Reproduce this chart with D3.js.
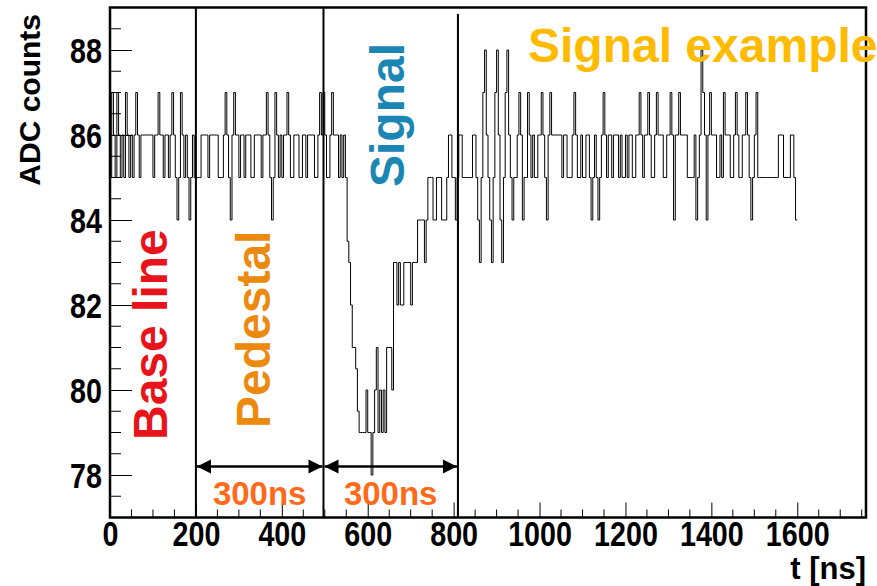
<!DOCTYPE html>
<html>
<head>
<meta charset="utf-8">
<script src="https://cdn.jsdelivr.net/npm/d3@7"></script>
<style>
  body { margin: 0; background: #fff; }
  svg text { font-family: "Liberation Sans", Arial, Helvetica, sans-serif; font-weight: bold; }
</style>
</head>
<body>
<svg width="877" height="586"></svg>
<script>
// sampled ADC trace, one value per 4 ns bin, t = 0 .. 1600 ns
var binWidth = 4;
var adc = [
  85,87,86,85,87,86,85,86,85,87, 86,85,86,85,86,87,86,85,86,86,
  86,86,86,86,86,85,86,86,87,86, 86,85,86,86,85,86,87,86,85,84,
  85,87,86,85,86,85,84,85,86,85,
  85,85,85,86,86,86,86,85,86,86, 86,86,86,85,85,85,86,87,86,85,
  84,86,87,86,86,85,86,86,85,86, 86,86,85,85,86,86,86,86,85,86,
  86,87,86,85,84,85,87,86,85,86,
  85,86,86,87,86,85,85,86,86,86, 85,85,86,86,85,86,86,86,86,85,
  85,86,87,86,87,86,85,85,86,87, 86,86,86,85,86,85,86,85,83.5,83,
  82,81,81,80.5,79.5,79,79,79,79,80,
  79,79,78,79,80,81,79,80,79,80, 79,81,81,81,80,83,83,82,83,82,
  82,83,83,83,83,82,83,83,83,84, 84,84,84,83,84,85,85,85,84,84,
  85,85,85,84,84,84,85,86,86,85,
  85,84,85,86,86,85,85,85,85,85, 85,86,86,85,84,83,85,87,88,86,
  85,84,83,85,87,88,86,84,83,85, 87,88,86,85,84,85,85,86,87,86,
  84,85,85,87,86,85,86,85,85,86,
  86,87,86,85,84,86,87,86,86,86, 86,86,86,85,86,86,85,85,85,86,
  87,86,85,85,86,85,85,86,86,85, 84,85,86,85,84,85,86,87,86,85,
  86,86,85,86,86,86,85,86,85,85,
  86,85,86,86,85,85,86,86,87,86, 85,86,86,87,86,85,85,86,87,86,
  86,86,85,85,86,86,87,86,84,86, 86,87,86,86,86,86,85,85,85,85,
  86,84,85,86,88,87,86,84,86,87,
  86,86,86,85,85,86,85,87,86,86, 86,85,85,86,87,86,85,85,86,86,
  87,86,85,84,85,86,87,85,85,85, 85,85,85,85,85,85,85,85,85,86,
  86,86,85,85,85,85,86,86,85,84
];

// window markers (ns) and annotation
var markers = [200, 497, 810];
var markerTops = [89, 89, 88.85];
var arrowLevel = 78.2;
var spanLabels = ["300ns", "300ns"];

var xTicks = [0, 200, 400, 600, 800, 1000, 1200, 1400, 1600];
var yTicks = [78, 80, 82, 84, 86, 88];

var svg = d3.select("svg");

var x = d3.scaleLinear().domain([0, 1760]).range([110, 866]);
var y = d3.scaleLinear().domain([77, 89]).range([517.5, 7.5]);

var pts = adc.map(function(v, i) { return [i * binWidth, v]; });
pts.push([adc.length * binWidth, adc[adc.length - 1]]);

var line = d3.line()
    .curve(d3.curveStepAfter)
    .x(function(d) { return x(d[0]); })
    .y(function(d) { return y(d[1]); });

svg.append("path")
    .datum(pts)
    .attr("d", line)
    .attr("fill", "none")
    .attr("stroke", "#000")
    .attr("stroke-width", 1);

// axes, ROOT style: ticks inside the frame, condensed bold labels
var sx = 0.82;
var xAxis = d3.axisBottom(x).tickValues(xTicks).tickSize(-15).tickPadding(3).tickFormat(d3.format("d"));
var gx = svg.append("g").attr("transform", "translate(0," + y(77) + ")").call(xAxis);
gx.select(".domain").remove();
gx.selectAll("text")
    .attr("font-size", 35).attr("fill", "#000").attr("dy", "0.72em")
    .attr("transform", "scale(" + sx + ",1)");

var xMinor = d3.range(50, 1760, 50).filter(function(v) { return v % 200 != 0; });
svg.append("g").selectAll("line").data(xMinor).enter().append("line")
    .attr("x1", function(d) { return x(d); }).attr("x2", function(d) { return x(d); })
    .attr("y1", y(77)).attr("y2", y(77) - 8)
    .attr("stroke", "#000").attr("stroke-width", 1);

var yAxis = d3.axisLeft(y).tickValues(yTicks).tickSize(-22).tickFormat(d3.format("d"));
var gy = svg.append("g").attr("transform", "translate(" + x(0) + ",0)").call(yAxis);
gy.select(".domain").remove();
gy.selectAll("text")
    .attr("font-size", 35).attr("fill", "#000").attr("dy", "0.36em")
    .attr("x", -8 / sx).attr("text-anchor", "end")
    .attr("transform", "scale(" + sx + ",1)");

var yMinor = d3.range(77.5, 89, 0.5).filter(function(v) { return v % 2 != 0; });
svg.append("g").selectAll("line").data(yMinor).enter().append("line")
    .attr("x1", x(0)).attr("x2", x(0) + 11)
    .attr("y1", function(d) { return y(d); }).attr("y2", function(d) { return y(d); })
    .attr("stroke", "#000").attr("stroke-width", 1);

// frame
svg.append("rect")
    .attr("x", x(0)).attr("y", y(89))
    .attr("width", x(1760) - x(0)).attr("height", y(77) - y(89))
    .attr("fill", "none").attr("stroke", "#000").attr("stroke-width", 2.5);

// window markers
svg.append("g").selectAll("line").data(markers).enter().append("line")
    .attr("x1", function(d) { return x(d); }).attr("x2", function(d) { return x(d); })
    .attr("y1", function(d, i) { return y(markerTops[i]); }).attr("y2", y(77))
    .attr("stroke", "#000").attr("stroke-width", 2);

// double arrows between markers
var ay = y(arrowLevel);
var head = 14, half = 7;
for (var k = 0; k < markers.length - 1; k++) {
  var a = x(markers[k]) + 1, b = x(markers[k + 1]) - 1;
  svg.append("line").attr("x1", a).attr("x2", b).attr("y1", ay).attr("y2", ay)
      .attr("stroke", "#000").attr("stroke-width", 2.5);
  svg.append("path")
      .attr("d", "M" + a + "," + ay + "L" + (a + head) + "," + (ay - half) + "L" + (a + head) + "," + (ay + half) + "Z")
      .attr("fill", "#000");
  svg.append("path")
      .attr("d", "M" + b + "," + ay + "L" + (b - head) + "," + (ay - half) + "L" + (b - head) + "," + (ay + half) + "Z")
      .attr("fill", "#000");
  svg.append("text")
      .attr("x", (a + b) / 2).attr("y", y(77.3))
      .attr("text-anchor", "middle").attr("font-size", 33).attr("fill", "#ff6a1a")
      .text(spanLabels[k]);
}

// axis titles
svg.append("text")
    .attr("transform", "translate(40,14) rotate(-90)")
    .attr("text-anchor", "end").attr("font-size", 30).attr("fill", "#000")
    .text("ADC counts");
svg.append("text")
    .attr("x", 866).attr("y", 579)
    .attr("text-anchor", "end").attr("font-size", 31).attr("fill", "#000")
    .text("t [ns]");

// region labels
function vlabel(txt, px, py, col) {
  svg.append("text")
      .attr("transform", "translate(" + px + "," + py + ") rotate(-90)")
      .attr("font-size", 48).attr("fill", col)
      .text(txt);
}
vlabel("Base line", 167, 440, "#e8141b");
vlabel("Pedestal", 270, 428, "#ec8a10");
vlabel("Signal", 404, 187, "#1a86b3");

svg.append("text")
    .attr("x", 528).attr("y", 62)
    .attr("font-size", 48).attr("fill", "#ffbb00")
    .text("Signal example");
</script>
</body>
</html>
